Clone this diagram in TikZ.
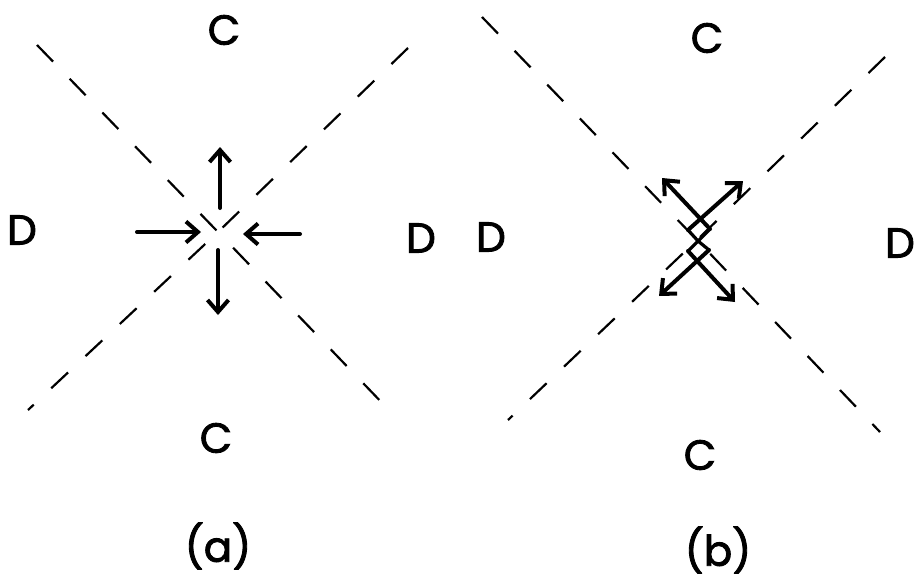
\documentclass[tikz,border=0pt]{standalone}
\usepackage{fontspec}
\newfontfamily\labfont{Poppins}[FakeBold=2]
\usetikzlibrary{arrows.meta}

\begin{document}
\begin{tikzpicture}[
    x=1pt, y=-1pt,
    every node/.style={font=\labfont\fontsize{42}{48}\selectfont, inner sep=0pt},
    boundary/.style={line width=2.2pt, dash pattern=on 23pt off 24pt},
    arrow/.style={-{Straight Barb[length=12pt, width=21pt]}, line width=4pt, line cap=round},
    corner/.style={line width=3.2pt, line join=miter}
]
\useasboundingbox (0,0) rectangle (915,581);

% (a) Compression
\coordinate (ca) at (218,232);
\node (Cat) at (224,30) {C};
\node (Cab) at (216,438) {C};
\node (Dal) at (22,230) {D};
\node (Dar) at (421,238) {D};
\node (capa) at (218,546) {(a)};

\draw[boundary] (37,45) -- (ca) -- (387,408);
\draw[boundary] (408,48) -- (ca) -- (28,410);

\coordinate (aup0) at (220,208);  \coordinate (aup1) at (220,147);
\coordinate (adn0) at (218,250);  \coordinate (adn1) at (218,315);
\coordinate (alf0) at (137,232);  \coordinate (alf1) at (201,232);
\coordinate (art0) at (300,234);  \coordinate (art1) at (243,234);
\draw[arrow] (aup0) -- (aup1);
\draw[arrow] (adn0) -- (adn1);
\draw[arrow] (alf0) -- (alf1);
\draw[arrow] (art0) -- (art1);

% (b) Shear
\coordinate (cb) at (697,240);
\node (Cbt) at (707,38) {C};
\node (Cbb) at (700,455) {C};
\node (Dbl) at (491,237) {D};
\node (Dbr) at (900,243) {D};
\node (capb) at (718,550) {(b)};

\draw[boundary] (482,17) -- (cb) -- (880,432);
\draw[boundary] (885,57) -- (cb) -- (508,420);

% upper pair
\coordinate (uT) at (699,219);
\coordinate (uL) at (688,230);
\coordinate (uB) at (698,241);
\coordinate (uR) at (710,229);
\coordinate (ulTip) at (662,178);
\coordinate (urTip) at (743,181);
\draw[arrow] (uR) -- (ulTip);
\draw[arrow] (uL) -- (urTip);
\draw[corner] (uL) -- (uB) -- (uR);

% lower pair
\coordinate (lT) at (698,241);
\coordinate (lL) at (688,251);
\coordinate (lB) at (698,260);
\coordinate (lR) at (709,250);
\coordinate (llTip) at (659,296);
\coordinate (lrTip) at (735,302);
\draw[arrow] (lR) -- (llTip);
\draw[arrow] (lL) -- (lrTip);
\draw[corner] (lL) -- (lT) -- (lR);

\end{tikzpicture}
\end{document}
